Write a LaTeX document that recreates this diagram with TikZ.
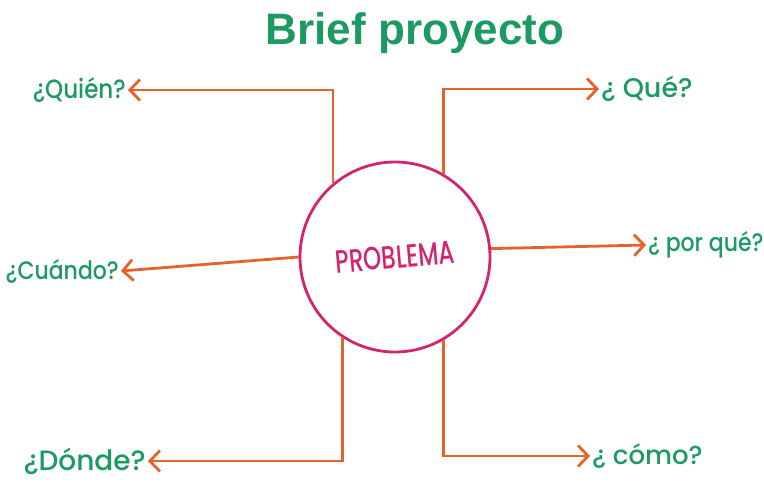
\documentclass[tikz,border=0pt]{standalone}
\usepackage{fontspec}
\setmainfont{Poppins}
\newfontfamily\askfont{Poppins}[UprightFont=* Medium]
\newfontfamily\headfont{Liberation Sans}
\usetikzlibrary{arrows.meta}

\definecolor{leaf}{HTML}{1B9A62}
\definecolor{rust}{HTML}{E5632A}
\definecolor{berry}{HTML}{D4246F}

\begin{document}
\begin{tikzpicture}[
  x=1pt, y=-1pt,
  ask/.style={text=leaf, inner xsep=2pt, inner ysep=0pt},
  hub/.style={circle, draw=berry, line width=2.8pt, minimum size=190pt, text=berry, inner sep=0pt},
  arr/.style={-{Straight Barb[length=10pt, width=21pt, line width=2.8pt]}, rust, line width=2.8pt}
]
\useasboundingbox (0,0) rectangle (764,485);

% --- title ---
\node[text=leaf, inner sep=0pt, font=\headfont\bfseries\fontsize{44}{50}\selectfont] (title) at (415,33) {Brief proyecto};

% --- centre ---
\node[hub, font=\askfont\fontsize{23}{28}\selectfont] (prob) at (395,257) {\rotatebox{5}{\scalebox{1}[1.4]{PROBLEMA}}};

% --- questions, left side ---
\node[ask, anchor=east, font=\askfont\fontsize{23}{26}\selectfont] (quien)  at (128,90)  {\scalebox{1}[1.15]{¿Quién?}};
\node[ask, anchor=east, font=\askfont\fontsize{22}{26}\selectfont] (cuando) at (121,271) {\scalebox{1}[1.15]{¿Cuándo?}};
\node[ask, anchor=east, font=\askfont\fontsize{28}{32}\selectfont] (donde)  at (148,461) {¿Dónde?};

% --- questions, right side ---
\node[ask, anchor=west, font=\askfont\fontsize{27}{30}\selectfont] (que)    at (599,89)  {¿ Qué?};
\node[ask, anchor=west, font=\askfont\fontsize{22}{26}\selectfont] (porque) at (646,245) {\scalebox{1}[1.15]{¿ por qué?}};
\node[ask, anchor=west, font=\askfont\fontsize{26}{30}\selectfont] (como)   at (590,456) {¿ cómo?};

% --- connectors ---
\draw[arr] (prob.130) |- (quien.east);
\draw[arr] (prob.180) -- (cuando.east);
\draw[arr] (prob.237) |- (donde.east);
\draw[arr] (prob.60)  |- (que.west);
\draw[arr] (prob.5)   -- (porque.west);
\draw[arr] (prob.300) |- (como.west);
\end{tikzpicture}
\end{document}
